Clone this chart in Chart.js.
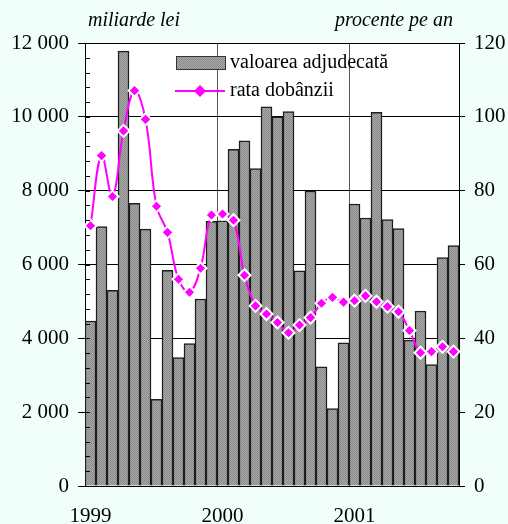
<!DOCTYPE html>
<html>
<head>
<meta charset="utf-8">
<script src="https://cdn.jsdelivr.net/npm/chart.js@4.4.1/dist/chart.umd.min.js"></script>
<style>
  html, body { margin: 0; padding: 0; background: #f0fffa; }
  #wrap { width: 508px; height: 524px; }
</style>
</head>
<body>
<div id="wrap"><canvas id="chart" width="508" height="524"></canvas></div>
<script>
// monthly, Jan 1999 - Oct 2001
const months = [
  '1999-01','1999-02','1999-03','1999-04','1999-05','1999-06','1999-07','1999-08','1999-09','1999-10','1999-11','1999-12',
  '2000-01','2000-02','2000-03','2000-04','2000-05','2000-06','2000-07','2000-08','2000-09','2000-10','2000-11','2000-12',
  '2001-01','2001-02','2001-03','2001-04','2001-05','2001-06','2001-07','2001-08','2001-09','2001-10'
];
// valoarea adjudecata (miliarde lei)
const valoare = [
  4470, 7030, 5300, 11780, 7660, 6960, 2350, 5840, 3480, 3860, 5065, 7170,
  7180, 9120, 9350, 8600, 10270, 10000, 10140, 5830, 7990, 3230, 2100, 3880,
  7640, 7260, 10120, 7220, 6970, 3950, 4740, 3290, 6190, 6510
];
// rata dobanzii (procente pe an)
const rata = [
  70.5, 89.5, 78.4, 96.2, 107.1, 99.3, 75.8, 68.7, 56.0, 52.5, 59.0, 73.4,
  73.7, 72.0, 57.1, 48.8, 46.6, 44.3, 41.5, 43.6, 45.6, 49.5, 51.1, 49.8,
  50.2, 51.5, 49.9, 48.6, 47.2, 42.1, 36.1, 36.4, 37.7, 36.4
];
const yearLabels = { 0: '1999', 12: '2000', 24: '2001' };

function hatch() {
  const c = document.createElement('canvas');
  c.width = 2; c.height = 2;
  const g = c.getContext('2d');
  g.fillStyle = '#a9a9a9';
  g.fillRect(0, 0, 2, 2);
  g.fillStyle = '#8a8a8a';
  g.fillRect(0, 0, 1, 1);
  g.fillRect(1, 1, 1, 1);
  return g.createPattern(c, 'repeat');
}
const barFill = hatch();
const serif = '"Liberation Serif", "Times New Roman", serif';

const decor = {
  id: 'decor',
  beforeDraw(chart) {
    const { ctx, chartArea: a } = chart;
    ctx.save();
    ctx.fillStyle = '#ffffff';
    ctx.fillRect(a.left, a.top, a.right - a.left, a.bottom - a.top);
    ctx.restore();
  },
  afterDraw(chart) {
    const { ctx, chartArea: a } = chart;
    const yl = chart.scales.y;
    ctx.save();
    // minor ticks on the left axis, inside
    ctx.strokeStyle = '#000';
    ctx.lineWidth = 1;
    for (let v = 0; v <= 12000; v += 400) {
      const py = Math.round(yl.getPixelForValue(v)) + 0.5;
      ctx.beginPath();
      ctx.moveTo(a.left, py);
      ctx.lineTo(a.left + 5, py);
      ctx.stroke();
    }
    // axis unit titles
    ctx.fillStyle = '#000';
    ctx.font = 'italic 20px ' + serif;
    ctx.textBaseline = 'middle';
    ctx.textAlign = 'left';
    ctx.fillText('miliarde lei', 88, 21);
    ctx.textAlign = 'right';
    ctx.fillText('procente pe an', 453, 21);

    // legend
    ctx.font = '20px ' + serif;
    ctx.textAlign = 'left';
    ctx.fillStyle = barFill;
    ctx.fillRect(176, 56, 49, 13);
    ctx.strokeStyle = '#333';
    ctx.strokeRect(176.5, 56.5, 49, 13);
    ctx.fillStyle = '#000';
    ctx.fillText('valoarea adjudecată', 230, 63);

    ctx.strokeStyle = '#ff00ff';
    ctx.lineWidth = 2;
    ctx.beginPath();
    ctx.moveTo(175, 91);
    ctx.lineTo(225, 91);
    ctx.stroke();
    ctx.fillStyle = '#ff00ff';
    ctx.beginPath();
    ctx.moveTo(200, 85); ctx.lineTo(206, 91); ctx.lineTo(200, 97); ctx.lineTo(194, 91);
    ctx.closePath();
    ctx.fill();
    ctx.fillStyle = '#000';
    ctx.fillText('rata dobânzii', 230, 91);
    ctx.restore();
  }
};

new Chart(document.getElementById('chart'), {
  data: {
    labels: months,
    datasets: [
      {
        type: 'line',
        label: 'rata dobânzii',
        data: rata,
        yAxisID: 'y1',
        borderColor: '#ff00ff',
        borderWidth: 2,
        tension: 0.4,
        pointStyle: 'rectRot',
        pointRadius: 6,
        pointBackgroundColor: '#ff00ff',
        pointBorderColor: '#ffffff',
        pointBorderWidth: 2,
        order: 0
      },
      {
        type: 'bar',
        label: 'valoarea adjudecată',
        data: valoare,
        yAxisID: 'y',
        backgroundColor: barFill,
        borderColor: '#1e1e1e',
        borderWidth: 1.5,
        categoryPercentage: 1,
        barPercentage: 1,
        order: 1
      }
    ]
  },
  options: {
    responsive: false,
    animation: false,
    layout: { padding: { top: 43, left: 0, right: 0, bottom: 0 } },
    plugins: {
      legend: { display: false },
      tooltip: { enabled: false }
    },
    scales: {
      x: {
        offset: true,
        grid: {
          offset: true,
          color: ctx => (ctx.index === 12 || ctx.index === 24) ? '#555' : 'rgba(0,0,0,0)',
          tickLength: 0
        },
        border: { color: '#000', width: 1 },
        ticks: {
          autoSkip: false,
          maxRotation: 0,
          padding: 18,
          color: '#000',
          font: { family: serif, size: 21 },
          callback: (v, i) => yearLabels[i] || ''
        },
        afterFit: s => { s.height = 38; }
      },
      y: {
        position: 'left',
        min: 0,
        max: 12000,
        ticks: {
          stepSize: 2000,
          padding: 9,
          color: '#000',
          font: { family: serif, size: 21 },
          callback: v => v >= 1000 ? Math.floor(v / 1000) + ' ' + String(v % 1000).padStart(3, '0') : String(v)
        },
        grid: { color: '#000', lineWidth: 1, tickLength: 7 },
        border: { color: '#000', width: 1 },
        afterFit: s => { s.width = 85; }
      },
      y1: {
        position: 'right',
        min: 0,
        max: 120,
        ticks: {
          stepSize: 20,
          padding: 9,
          color: '#000',
          font: { family: serif, size: 21 }
        },
        grid: { drawOnChartArea: false, color: '#000', tickLength: 6 },
        border: { color: '#000', width: 1 },
        afterFit: s => { s.width = 49; }
      }
    }
  },
  plugins: [decor]
});
</script>
</body>
</html>
